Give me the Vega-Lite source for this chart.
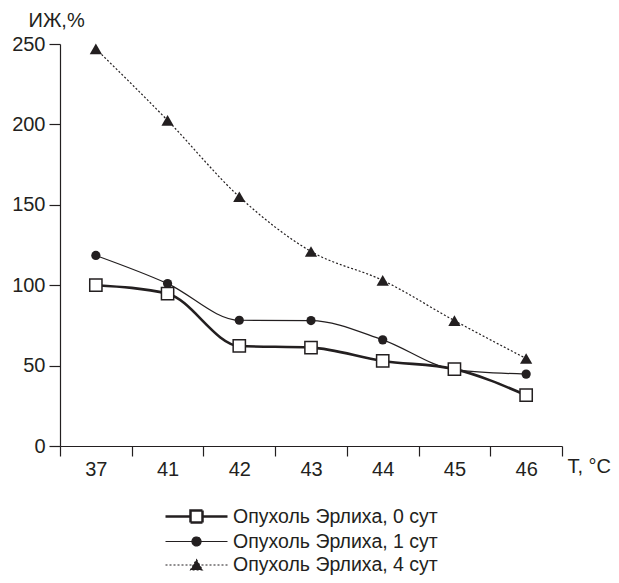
{
  "$schema": "https://vega.github.io/schema/vega-lite/v6.json",
  "autosize": {"type": "none"},
  "width": 502,
  "height": 402,
  "padding": {"left": 60, "top": 44, "right": 57, "bottom": 137},
  "background": "white",
  "config": {
    "view": {"stroke": null},
    "font": "Liberation Sans",
    "axis": {"labelFont": "Liberation Sans", "titleFont": "Liberation Sans", "labelColor": "#231f20", "titleColor": "#231f20", "domainColor": "#231f20", "tickColor": "#231f20", "grid": false, "domainWidth": 1.2, "tickWidth": 1.2}
  },
  "data": {
    "values": [
      {"series": "Опухоль Эрлиха, 0 сут", "T": "37", "v": 100},
      {"series": "Опухоль Эрлиха, 0 сут", "T": "41", "v": 94.7},
      {"series": "Опухоль Эрлиха, 0 сут", "T": "42", "v": 62.2},
      {"series": "Опухоль Эрлиха, 0 сут", "T": "43", "v": 61.2},
      {"series": "Опухоль Эрлиха, 0 сут", "T": "44", "v": 52.9},
      {"series": "Опухоль Эрлиха, 0 сут", "T": "45", "v": 47.8},
      {"series": "Опухоль Эрлиха, 0 сут", "T": "46", "v": 31.6},
      {"series": "Опухоль Эрлиха, 1 сут", "T": "37", "v": 118.5},
      {"series": "Опухоль Эрлиха, 1 сут", "T": "41", "v": 101},
      {"series": "Опухоль Эрлиха, 1 сут", "T": "42", "v": 78.2},
      {"series": "Опухоль Эрлиха, 1 сут", "T": "43", "v": 78},
      {"series": "Опухоль Эрлиха, 1 сут", "T": "44", "v": 66},
      {"series": "Опухоль Эрлиха, 1 сут", "T": "45", "v": 47.5},
      {"series": "Опухоль Эрлиха, 1 сут", "T": "46", "v": 44.7},
      {"series": "Опухоль Эрлиха, 4 сут", "T": "37", "v": 247},
      {"series": "Опухоль Эрлиха, 4 сут", "T": "41", "v": 202.5},
      {"series": "Опухоль Эрлиха, 4 сут", "T": "42", "v": 155},
      {"series": "Опухоль Эрлиха, 4 сут", "T": "43", "v": 121},
      {"series": "Опухоль Эрлиха, 4 сут", "T": "44", "v": 103},
      {"series": "Опухоль Эрлиха, 4 сут", "T": "45", "v": 78},
      {"series": "Опухоль Эрлиха, 4 сут", "T": "46", "v": 54.4}
    ]
  },
  "encoding": {
    "x": {
      "field": "T", "type": "ordinal", "sort": ["37", "41", "42", "43", "44", "45", "46"],
      "scale": {"paddingInner": 0, "paddingOuter": 0},
      "axis": {"title": "T, °C", "labelAngle": 0, "labelFontSize": 20, "labelPadding": 3, "tickSize": 10, "tickBand": "extent", "titleFontSize": 20, "titleFontWeight": "normal", "titleAnchor": "start", "titleAlign": "left", "titleX": 507, "titleY": 20, "titleBaseline": "middle"}
    },
    "y": {
      "field": "v", "type": "quantitative",
      "scale": {"domain": [0, 250], "nice": false},
      "axis": {"title": "ИЖ,%", "values": [0, 50, 100, 150, 200, 250], "labelFontSize": 20, "labelPadding": 4, "tickSize": 11, "titleFontSize": 20, "titleFontWeight": "normal", "titleAngle": 0, "titleAnchor": "start", "titleAlign": "left", "titleBaseline": "middle", "titleX": -32, "titleY": -24}
    }
  },
  "layer": [
    {
      "transform": [{"filter": "datum.series === 'Опухоль Эрлиха, 4 сут'"}],
      "mark": {"type": "line", "interpolate": "monotone", "color": "#231f20", "strokeWidth": 1.2, "strokeDash": [2, 2]}
    },
    {
      "transform": [{"filter": "datum.series === 'Опухоль Эрлиха, 1 сут'"}],
      "mark": {"type": "line", "interpolate": "monotone", "color": "#231f20", "strokeWidth": 1.2}
    },
    {
      "transform": [{"filter": "datum.series === 'Опухоль Эрлиха, 0 сут'"}],
      "mark": {"type": "line", "interpolate": "monotone", "color": "#231f20", "strokeWidth": 2.6}
    },
    {
      "transform": [{"filter": "datum.series === 'Опухоль Эрлиха, 4 сут'"}],
      "mark": {"type": "point", "shape": "triangle-up", "size": 150, "filled": true, "color": "#231f20", "opacity": 1}
    },
    {
      "transform": [{"filter": "datum.series === 'Опухоль Эрлиха, 1 сут'"}],
      "mark": {"type": "point", "shape": "circle", "size": 85, "filled": true, "color": "#231f20", "opacity": 1}
    },
    {
      "transform": [{"filter": "datum.series === 'Опухоль Эрлиха, 0 сут'"}],
      "mark": {"type": "point", "shape": "square", "size": 150, "fill": "white", "stroke": "#231f20", "strokeWidth": 1.5, "opacity": 1}
    },
    {
      "transform": [{"filter": "false"}],
      "mark": {"type": "point", "filled": true, "opacity": 1},
      "encoding": {
        "shape": {
          "field": "series", "type": "nominal",
          "scale": {
            "domain": ["Опухоль Эрлиха, 0 сут", "Опухоль Эрлиха, 1 сут", "Опухоль Эрлиха, 4 сут"],
            "range": [
              "M-3.1,0H-0.6M0.6,0H3.1M-0.6,-0.6H0.6V0.6H-0.6Z",
              "M-3.1,0H3.1M0.45,0A0.45,0.45 0 1,1 -0.45,0A0.45,0.45 0 1,1 0.45,0Z",
              "M-3.1,0H3.1M0,-0.55L0.6,0.5H-0.6Z"
            ]
          },
          "legend": {
            "title": null, "orient": "none", "legendX": 125, "legendY": 461, "padding": 0,
            "symbolSize": 400, "labelOffset": 25, "rowPadding": 2.5, "labelFontSize": 19.5, "labelFont": "Liberation Sans", "labelColor": "#231f20", "labelLimit": 400, "symbolOpacity": 1
          }
        },
        "fill": {
          "field": "series", "type": "nominal",
          "scale": {"domain": ["Опухоль Эрлиха, 0 сут", "Опухоль Эрлиха, 1 сут", "Опухоль Эрлиха, 4 сут"], "range": ["white", "#231f20", "#231f20"]},
          "legend": {"title": null, "orient": "none", "legendX": 125, "legendY": 461}
        },
        "stroke": {
          "field": "series", "type": "nominal",
          "scale": {"domain": ["Опухоль Эрлиха, 0 сут", "Опухоль Эрлиха, 1 сут", "Опухоль Эрлиха, 4 сут"], "range": ["#231f20", "#231f20", "#231f20"]},
          "legend": {"title": null, "orient": "none", "legendX": 125, "legendY": 461}
        },
        "strokeDash": {
          "field": "series", "type": "nominal",
          "scale": {"domain": ["Опухоль Эрлиха, 0 сут", "Опухоль Эрлиха, 1 сут", "Опухоль Эрлиха, 4 сут"], "range": [[1, 0], [1, 0], [2, 2]]},
          "legend": {"title": null, "orient": "none", "legendX": 125, "legendY": 461}
        },
        "strokeWidth": {
          "field": "series", "type": "nominal",
          "scale": {"type": "ordinal", "domain": ["Опухоль Эрлиха, 0 сут", "Опухоль Эрлиха, 1 сут", "Опухоль Эрлиха, 4 сут"], "range": [2.5, 1.2, 1.1]},
          "legend": {"title": null, "orient": "none", "legendX": 125, "legendY": 461}
        }
      }
    }
  ]
}
